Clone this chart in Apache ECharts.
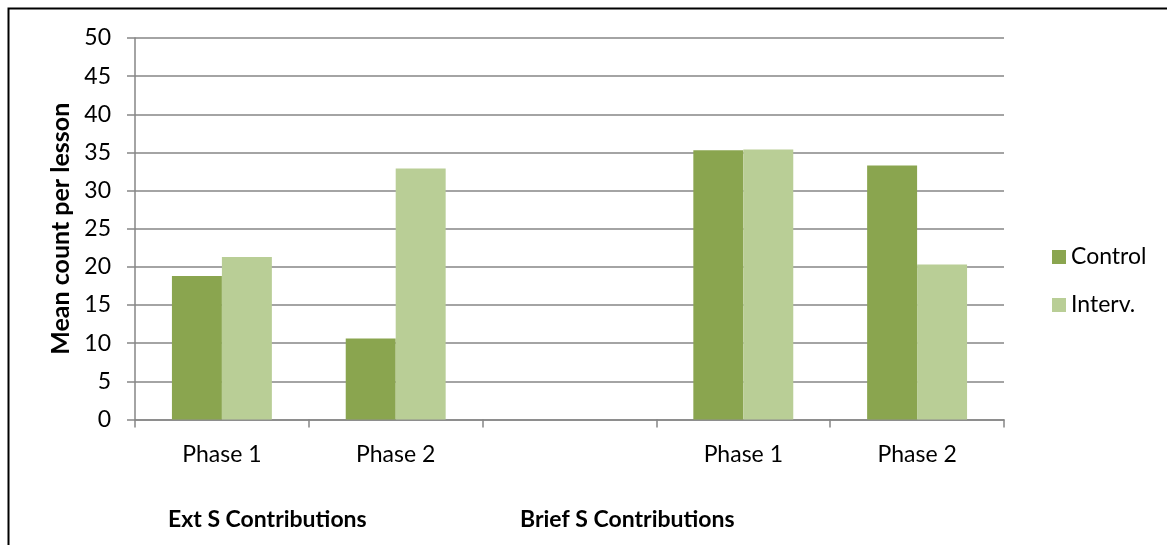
<!DOCTYPE html>
<html>
<head>
<meta charset="utf-8">
<script src="https://cdn.jsdelivr.net/npm/echarts@6/dist/echarts.min.js"></script>
<style>
html,body{margin:0;padding:0;background:#fff;}
#chart{width:1167px;height:545px;}
</style>
</head>
<body>
<div id="chart"></div>
<script>
const categories = ['Phase 1', 'Phase 2', '', 'Phase 1', 'Phase 2'];
const controlValues = [18.8, 10.6, null, 35.3, 33.3];
const intervValues = [21.3, 32.9, null, 35.4, 20.3];
const seriesNames = ['Control', 'Interv.'];
const groupLabels = ['Ext S Contributions', 'Brief S Contributions'];
const yTicks = { min: 0, max: 50, interval: 5 };

const FONT = 'Lato, "Open Sans", sans-serif';
const chart = echarts.init(document.getElementById('chart'), null, { renderer: 'canvas' });
chart.setOption({
  animation: false,
  backgroundColor: '#ffffff',
  textStyle: { fontFamily: FONT },
  grid: { left: 135, right: 163, top: 38, bottom: 125.5, containLabel: false },
  legend: {
    orient: 'vertical',
    left: 1047,
    top: 240,
    itemWidth: 14,
    itemHeight: 14,
    itemGap: 24,
    icon: 'rect',
    data: seriesNames,
    textStyle: { fontFamily: FONT, fontSize: 23, color: '#000', lineHeight: 24 }
  },
  xAxis: {
    type: 'category',
    data: categories,
    axisLine: { lineStyle: { color: '#868686', width: 1.5 } },
    axisTick: { show: true, alignWithLabel: false, length: 8, lineStyle: { color: '#868686', width: 1.5 } },
    axisLabel: { fontFamily: FONT, fontSize: 23, color: '#000', margin: 24, interval: 0 }
  },
  yAxis: {
    type: 'value',
    min: yTicks.min,
    max: yTicks.max,
    interval: yTicks.interval,
    name: 'Mean count per lesson',
    nameLocation: 'middle',
    nameGap: 62,
    nameTextStyle: { fontFamily: FONT, fontSize: 25, fontWeight: 'bold', color: '#000' },
    axisLine: { show: true, lineStyle: { color: '#868686', width: 1.5 } },
    axisTick: { show: true, length: 8, lineStyle: { color: '#868686', width: 1.5 } },
    axisLabel: { fontFamily: FONT, fontSize: 23, color: '#000', margin: 24 },
    splitLine: { lineStyle: { color: '#868686', width: 1.5 } }
  },
  series: [
    {
      name: seriesNames[0], type: 'bar', data: controlValues,
      barGap: '0%', barCategoryGap: '42.5%',
      itemStyle: { color: '#8AA54F' }
    },
    {
      name: seriesNames[1], type: 'bar', data: intervValues,
      barGap: '0%', barCategoryGap: '42.5%',
      itemStyle: { color: '#B9CE96' }
    }
  ],
  graphic: [
    {
      type: 'rect', silent: true,
      shape: { x: 8.5, y: 8.5, width: 1300, height: 700 },
      style: { fill: 'none', stroke: '#000', lineWidth: 2 }
    },
    {
      type: 'text', left: 168, top: 508,
      style: { text: groupLabels[0], font: 'bold 23px ' + FONT, fill: '#000' }
    },
    {
      type: 'text', left: 520, top: 508,
      style: { text: groupLabels[1], font: 'bold 23px ' + FONT, fill: '#000' }
    }
  ]
});
</script>
</body>
</html>
